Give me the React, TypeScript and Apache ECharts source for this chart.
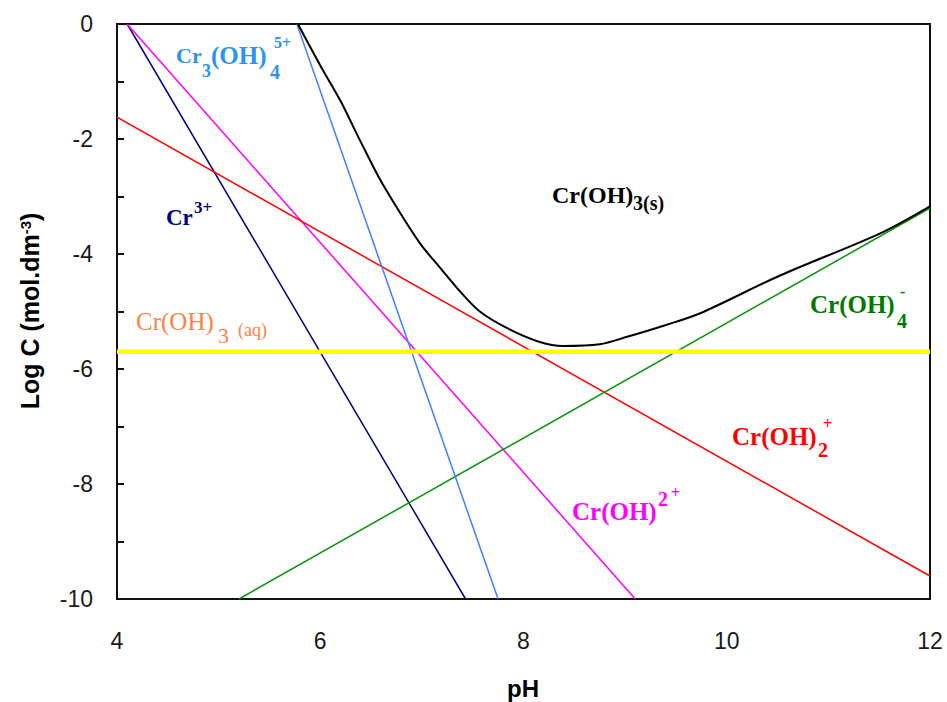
import React, { useEffect, useRef } from "react";
import * as echarts from "echarts";

// pH axis ticks and log C ticks
const xTicks = [4, 6, 8, 10, 12];
const yMin = -10;
const yMax = 0;

// Species lines (pH, log C)
const cr3 = [[4.1, 0], [7.43, -10]];
const crOH_2plus = [[4.1, 0], [9.1, -10]];
const crOH2_plus = [[4.0, -1.62], [12.0, -9.6]];
const crOH4_minus = [[5.2, -10], [12.0, -3.2]];
const cr3OH4 = [[5.77, 0], [7.75, -10]];
const crOH3aq = [[4.0, -5.7], [12.0, -5.7]];
const totalSolubility = [
  [5.78, 0], [6.0, -0.72], [6.2, -1.34], [6.39, -2.02], [6.59, -2.71],
  [6.83, -3.41], [7.0, -3.86], [7.18, -4.24], [7.38, -4.66], [7.57, -5.0], [7.84, -5.29],
  [8.16, -5.53], [8.39, -5.6], [8.75, -5.57], [9.02, -5.44], [9.41, -5.23],
  [9.74, -5.03], [10.53, -4.37], [11.51, -3.64], [12.0, -3.17],
];

const SERIF = '"Liberation Serif", "Times New Roman", serif';
const SANS = '"Liberation Sans", Arial, sans-serif';

function txt(text: string, x: number, y: number, size: number, fill: string, weight = "bold") {
  return {
    type: "text",
    x,
    y,
    silent: true,
    style: {
      text,
      fill,
      fontSize: size,
      fontFamily: SERIF,
      fontWeight: weight,
      align: "left",
      textAlign: "left",
      verticalAlign: "middle",
      textVerticalAlign: "middle",
    },
  };
}

export default function App() {
  const ref = useRef<HTMLDivElement>(null);
  useEffect(() => {
    if (!ref.current) return;
    const chart = echarts.init(ref.current, null, { renderer: "svg" });
    const line = (name: string, data: number[][], color: string, width: number, z = 2) => ({
      name,
      type: "line",
      data,
      showSymbol: false,
      symbol: "none",
      lineStyle: { color, width },
      itemStyle: { color },
      z,
      clip: true,
    });
    const blue = "#2b93f2";
    const graphic: any[] = [
      // Cr3(OH)4 5+
      txt("Cr", 176, 55, 22, blue),
      txt("3", 202, 71, 18, blue),
      txt("(OH)", 211, 55, 25, blue),
      txt("4", 270, 72, 20, blue),
      txt("5+", 274, 42, 16, blue),
      // Cr3+
      txt("Cr", 166, 217, 23, "#000080"),
      txt("3+", 194, 207, 17, "#000080"),
      // Cr(OH)3(s)
      txt("Cr(OH)", 552, 195, 24, "#000000"),
      txt("3(s)", 633, 203, 20, "#000000"),
      // Cr(OH)3 (aq)
      txt("Cr(OH)", 136, 321, 25, "#ff7f45", "normal"),
      txt("3", 218, 335, 22, "#ff7f45", "normal"),
      txt("(aq)", 238, 330, 18, "#ff7f45", "normal"),
      // Cr(OH)4-
      txt("Cr(OH)", 810, 304, 25, "#007800"),
      txt("4", 897, 321, 20, "#007800"),
      txt("-", 900, 291, 16, "#007800"),
      // Cr(OH)2+
      txt("Cr(OH)", 732, 436, 25, "#ff0000"),
      txt("2", 818, 450, 20, "#ff0000"),
      txt("+", 823, 423, 16, "#ff0000"),
      // Cr(OH)2+ (magenta)
      txt("Cr(OH)", 572, 511, 25, "#ff00ff"),
      txt("2", 658, 499, 20, "#ff00ff"),
      txt("+", 671, 492, 16, "#ff00ff"),
      // axis names
      {
        type: "text",
        x: 30,
        y: 311,
        rotation: Math.PI / 2,
        silent: true,
        style: {
          text: "{a|Log C (mol.dm}{s|-3}{a|)}",
          fill: "#000",
          align: "center",
          textAlign: "center",
          verticalAlign: "middle",
          textVerticalAlign: "middle",
          rich: {
            a: { fontSize: 25, fontWeight: "bold", fontFamily: SANS, fill: "#000", color: "#000", verticalAlign: "bottom" },
            s: { fontSize: 15, fontWeight: "bold", fontFamily: SANS, fill: "#000", color: "#000", verticalAlign: "top" },
          },
        },
      },
      {
        type: "text",
        x: 523,
        y: 688,
        silent: true,
        style: {
          text: "pH",
          fill: "#000",
          fontSize: 24,
          fontWeight: "bold",
          fontFamily: SANS,
          align: "center",
          textAlign: "center",
          verticalAlign: "middle",
          textVerticalAlign: "middle",
        },
      },
    ];

    chart.setOption({
      animation: false,
      backgroundColor: "#ffffff",
      grid: {
        left: 117,
        right: 17,
        top: 24,
        bottom: 103,
        show: true,
        borderColor: "#111",
        borderWidth: 2,
        backgroundColor: "transparent",
        containLabel: false,
      },
      xAxis: {
        type: "value",
        min: xTicks[0],
        max: xTicks[xTicks.length - 1],
        interval: 2,
        axisLine: { show: true, lineStyle: { color: "#111", width: 2 } },
        axisTick: { show: false },
        splitLine: { show: false },
        axisLabel: {
          margin: 30,
          fontSize: 23,
          fontFamily: SANS,
          color: "#1a1a1a",
        },
      },
      yAxis: {
        type: "value",
        min: yMin,
        max: yMax,
        interval: 1,
        axisLine: { show: true, lineStyle: { color: "#111", width: 2 } },
        axisTick: { show: true, inside: true, length: 7, lineStyle: { color: "#111", width: 2 } },
        splitLine: { show: false },
        axisLabel: {
          margin: 24,
          fontSize: 23,
          fontFamily: SANS,
          color: "#1a1a1a",
          formatter: (v: number) => (Math.round(v) % 2 === 0 ? String(v) : ""),
        },
      },
      series: [
        line("Cr3+", cr3, "#000080", 1.5),
        line("Cr(OH)2+", crOH_2plus, "#ff00ff", 1.5),
        line("Cr(OH)2 +", crOH2_plus, "#ff0000", 1.5),
        line("Cr(OH)4-", crOH4_minus, "#0a930a", 1.5),
        line("Cr3(OH)4 5+", cr3OH4, "#3f7fff", 1.5),
        { ...line("Cr(OH)3(s)", totalSolubility, "#000000", 2, 3), smooth: 0.3 },
        line("Cr(OH)3 (aq)", crOH3aq, "#ffff00", 4.5, 4),
      ],
      graphic,
    });
    return () => chart.dispose();
  }, []);
  return (
    <div
      ref={ref}
      style={{ position: "fixed", left: 0, top: 0, width: 947, height: 702, background: "#fff" }}
    />
  );
}
